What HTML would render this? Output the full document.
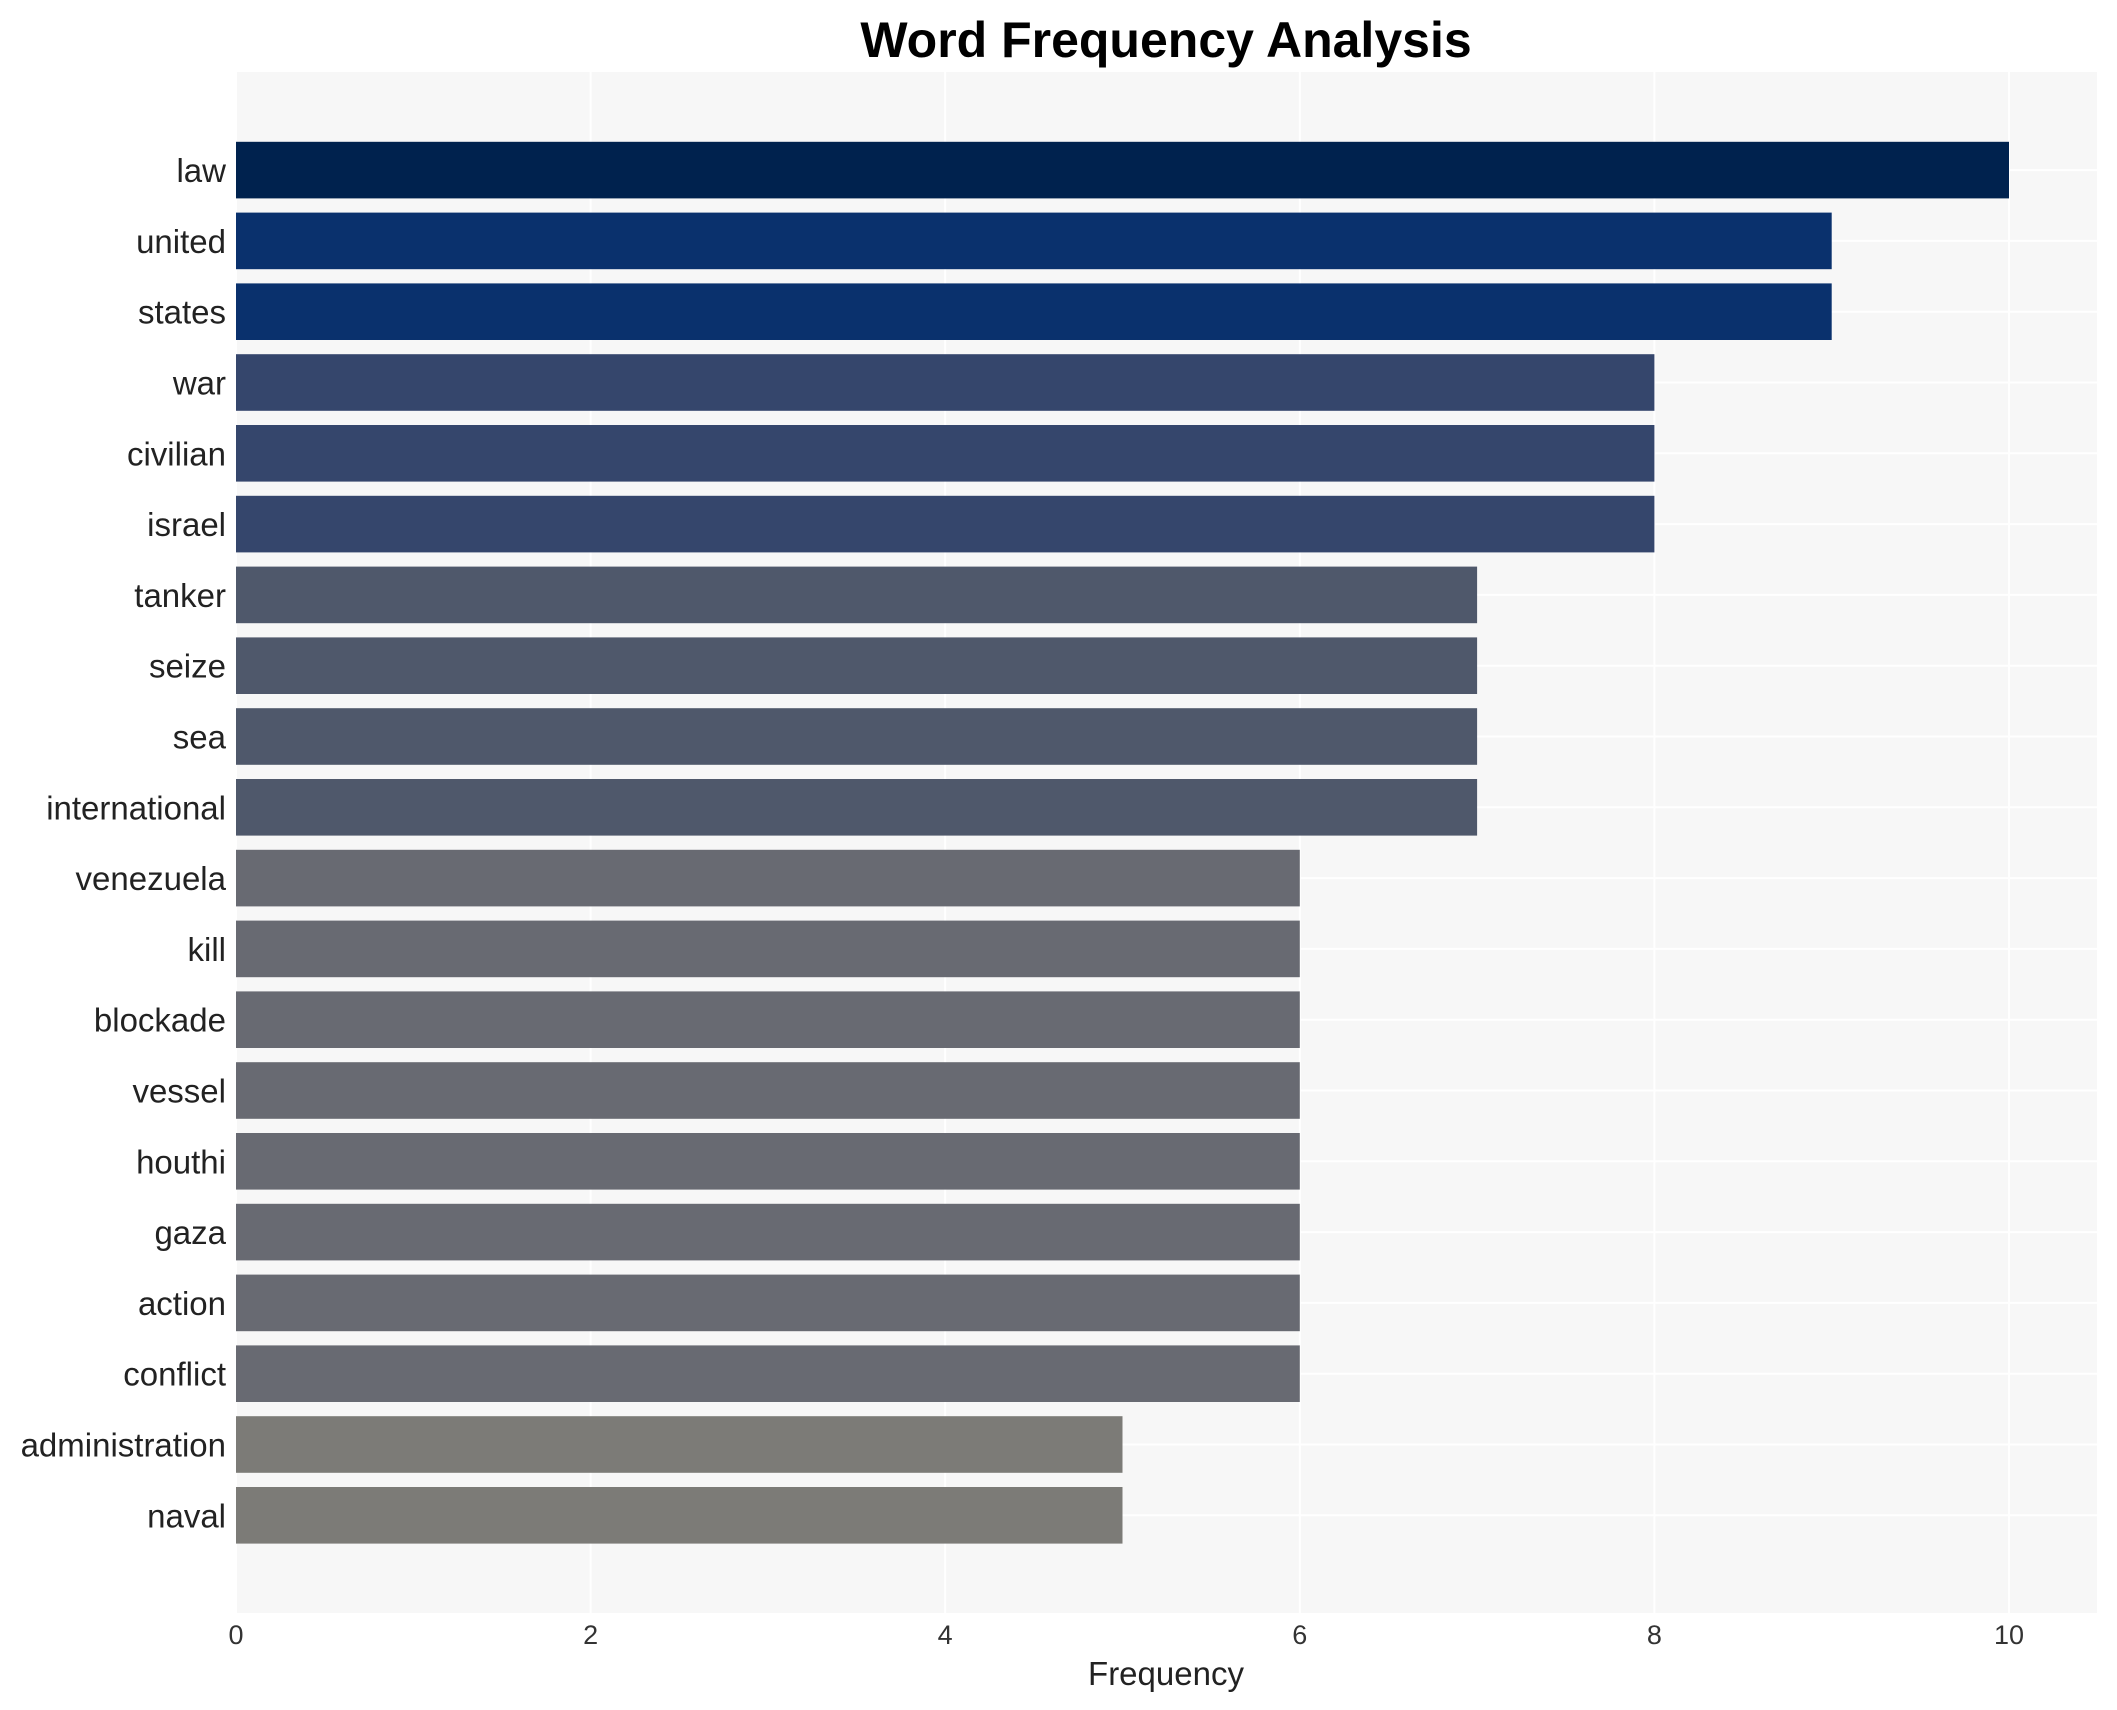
<!DOCTYPE html>
<html><head><meta charset="utf-8"><style>
html,body{margin:0;padding:0;background:#fff;}
svg{display:block;font-family:"Liberation Sans",Arial,sans-serif;}
</style></head><body>
<svg id="chart" width="2117" height="1710" viewBox="0 0 2117 1710" xmlns="http://www.w3.org/2000/svg">
<rect x="236" y="72" width="1861" height="1541" fill="#f7f7f7"/>
<g id="grid"></g>
<g id="bars"></g>
<g id="ylabels"></g>
<g id="xticks"></g>
<text x="1166" y="57" text-anchor="middle" font-size="50" font-weight="bold" fill="#000">Word Frequency Analysis</text>
<text x="1166" y="1685" text-anchor="middle" font-size="33" fill="#222">Frequency</text>
</svg>
<script>
const categories = ["law","united","states","war","civilian","israel","tanker","seize","sea","international","venezuela","kill","blockade","vessel","houthi","gaza","action","conflict","administration","naval"];
const values = [10,9,9,8,8,8,7,7,7,7,6,6,6,6,6,6,6,6,5,5];
const xTicks = [0,2,4,6,8,10];
const colorByValue = {10:"#00224e",9:"#0a316d",8:"#35466c",7:"#4f586b",6:"#686a72",5:"#7c7b77"};

const NS = "http://www.w3.org/2000/svg";
const x0 = 236, xUnit = 177.3, yTop = 141.8, pitch = 70.8, barH = 56.6;
const xs = v => x0 + v * xUnit;
const ys = i => yTop + i * pitch;

const grid = document.getElementById('grid');
const bars = document.getElementById('bars');
const ylabels = document.getElementById('ylabels');
const xticks = document.getElementById('xticks');

xTicks.forEach(v => {
  const l = document.createElementNS(NS, 'line');
  
  
  l.setAttribute('x1', xs(v)); l.setAttribute('x2', xs(v));
  l.setAttribute('y1', 72); l.setAttribute('y2', 1613);
  l.setAttribute('stroke', '#ffffff'); l.setAttribute('stroke-width', 2);
  grid.appendChild(l);
});
categories.forEach((c, i) => {
  const l = document.createElementNS(NS, 'line');
  
  
  l.setAttribute('x1', 236); l.setAttribute('x2', 2097);
  l.setAttribute('y1', ys(i) + barH / 2); l.setAttribute('y2', ys(i) + barH / 2);
  l.setAttribute('stroke', '#ffffff'); l.setAttribute('stroke-width', 2);
  grid.appendChild(l);
});

categories.forEach((c, i) => {
  const r = document.createElementNS(NS, 'rect');
  
  
  r.setAttribute('x', xs(0));
  r.setAttribute('y', ys(i));
  r.setAttribute('width', xs(values[i]) - xs(0));
  r.setAttribute('height', barH);
  r.setAttribute('fill', colorByValue[values[i]] || '#686a72');
  bars.appendChild(r);

  const t = document.createElementNS(NS, 'text');
  
  
  t.setAttribute('x', 226);
  t.setAttribute('y', ys(i) + barH / 2 + 12);
  t.setAttribute('text-anchor', 'end');
  t.setAttribute('font-size', '33');
  t.setAttribute('fill', '#222');
  t.textContent = c;
  ylabels.appendChild(t);
});

xTicks.forEach(v => {
  const t = document.createElementNS(NS, 'text');
  
  
  t.setAttribute('x', xs(v));
  t.setAttribute('y', 1644);
  t.setAttribute('text-anchor', 'middle');
  t.setAttribute('font-size', '27');
  t.setAttribute('fill', '#333');
  t.textContent = v;
  xticks.appendChild(t);
});
</script>
</body></html>
